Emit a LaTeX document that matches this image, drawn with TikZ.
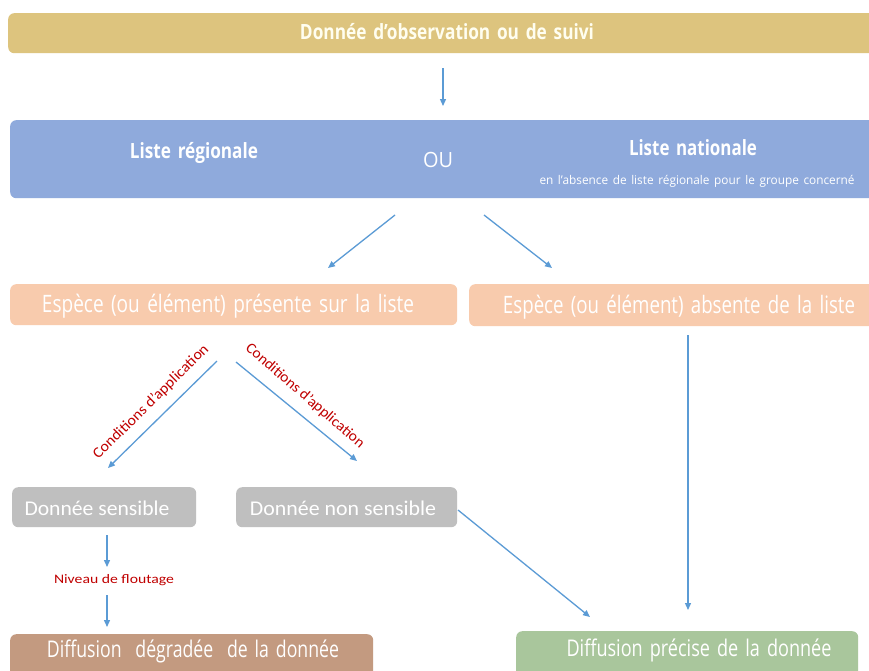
\documentclass[tikz,border=0pt]{standalone}
\usepackage{fontspec}
\usepackage{graphicx}
\setmainfont{Open Sans}[FakeStretch=0.8, WordSpace=1.5]
\newfontfamily\redfont{Carlito}
\newfontfamily\calfont{Carlito}
\usetikzlibrary{arrows.meta}
\definecolor{gold}{HTML}{DDC47E}
\definecolor{bluebox}{HTML}{8FAADC}
\definecolor{peach}{HTML}{F8CBAD}
\definecolor{greybox}{HTML}{BFBFBF}
\definecolor{brownbox}{HTML}{C39A80}
\definecolor{greenbox}{HTML}{A9C69C}
\definecolor{arrowblue}{HTML}{5B9BD5}
\definecolor{redtxt}{HTML}{C00000}
\newcommand{\fw}[2]{\resizebox{#1}{\height}{#2}}
\tikzset{
  box/.style={rectangle, rounded corners=6pt, draw=none, inner sep=0pt, anchor=north west},
  wtxt/.style={text=white, inner sep=0pt, anchor=base},
  lab/.style={text=redtxt, inner sep=0pt},
  arr/.style={draw=arrowblue, line width=1.3pt, -{Triangle[width=6pt,length=7pt]}}
}
\begin{document}
\begin{tikzpicture}[x=1pt,y=-1pt]
\clip (0,0) rectangle (869,670);
\fill[white] (0,0) rectangle (869,670);
% boxes
\node[box, fill=gold, minimum width=880, minimum height=40] (top) at (8,13) {};
\node[wtxt, text=white!94!yellow, font=\fontsize{21}{23}\selectfont\bfseries] (toptxt) at (447,39) {\fw{294pt}{Donnée d’observation ou de suivi}};
\node[box, fill=bluebox, minimum width=880, minimum height=78] (liste) at (10,120) {};
\node[wtxt, font=\fontsize{21}{23}\selectfont\bfseries] (reg) at (194,158) {\fw{128pt}{Liste régionale}};
\node[wtxt, font=\fontsize{21}{23}\selectfont] (ou) at (438,167) {\fw{30pt}{OU}};
\node[wtxt, font=\fontsize{21}{23}\selectfont\bfseries] (nat) at (693,155) {\fw{128pt}{Liste nationale}};
\node[wtxt, font=\fontsize{12}{13}\selectfont] (natsub) at (697,184) {\fw{315pt}{en l’absence de liste régionale pour le groupe concerné}};
\node[box, fill=peach, minimum width=447, minimum height=41] (pres) at (10,284) {};
\node[wtxt, font=\fontsize{24}{26}\selectfont] (prestxt) at (228,312) {\fw{372pt}{Espèce (ou élément) présente sur la liste}};
\node[box, fill=peach, minimum width=420, minimum height=42] (abs) at (469,284) {};
\node[wtxt, font=\fontsize{24}{26}\selectfont] (abstxt) at (679,313) {\fw{352pt}{Espèce (ou élément) absente de la liste}};
\node[box, fill=greybox, minimum width=184, minimum height=40] (sens) at (12,487) {};
\node[wtxt, font=\calfont\fontsize{21}{23}\selectfont] (senstxt) at (97,515) {\fw{145pt}{Donnée sensible}};
\node[box, fill=greybox, minimum width=221, minimum height=40] (nsens) at (236,487) {};
\node[wtxt, font=\calfont\fontsize{21}{23}\selectfont] (nsenstxt) at (343,515) {\fw{186pt}{Donnée non sensible}};
\node[box, fill=brownbox, minimum width=363, minimum height=50] (degr) at (10,634) {};
\node[wtxt, font=\fontsize{23}{25}\selectfont] (degrtxt) at (193,657) {\fw{292pt}{Diffusion\ \ dégradée\ \ de la donnée}};
\node[box, fill=greenbox, minimum width=342, minimum height=50] (prec) at (516,631) {};
\node[wtxt, font=\fontsize{23}{25}\selectfont] (prectxt) at (699,656) {\fw{265pt}{Diffusion précise de la donnée}};
% arrow end points
\coordinate (a1s) at (443,68);   \coordinate (a1e) at (443,106);
\coordinate (a2s) at (395,215);  \coordinate (a2e) at (328,268);
\coordinate (a3s) at (484,215);  \coordinate (a3e) at (552,268);
\coordinate (a4s) at (217,361);  \coordinate (a4e) at (108,468);
\coordinate (a5s) at (236,362);  \coordinate (a5e) at (357,461);
\coordinate (a6s) at (688,335);  \coordinate (a6e) at (688,610);
\coordinate (a7s) at (458,510);  \coordinate (a7e) at (590,617);
\coordinate (a8s) at (107,535);  \coordinate (a8e) at (107,567);
\coordinate (a9s) at (107,595);  \coordinate (a9e) at (107,627);
\draw[arr] (a1s) -- (a1e);
\draw[arr] (a2s) -- (a2e);
\draw[arr] (a3s) -- (a3e);
\draw[arr] (a4s) -- (a4e);
\draw[arr] (a5s) -- (a5e);
\draw[arr] (a6s) -- (a6e);
\draw[arr] (a7s) -- (a7e);
\draw[arr] (a8s) -- (a8e);
\draw[arr] (a9s) -- (a9e);
% labels
\node[lab, rotate=44.7, font=\redfont\fontsize{15}{17}\selectfont] (cond1) at (151,402) {\fw{156pt}{Conditions d’application}};
\node[lab, rotate=-40.8, font=\redfont\fontsize{15}{17}\selectfont] (cond2) at (305,396) {\fw{152pt}{Conditions d’application}};
\node[lab, font=\redfont\fontsize{13}{15}\selectfont] (flou) at (114,580) {\fw{120pt}{Niveau de floutage}};
\end{tikzpicture}
\end{document}
